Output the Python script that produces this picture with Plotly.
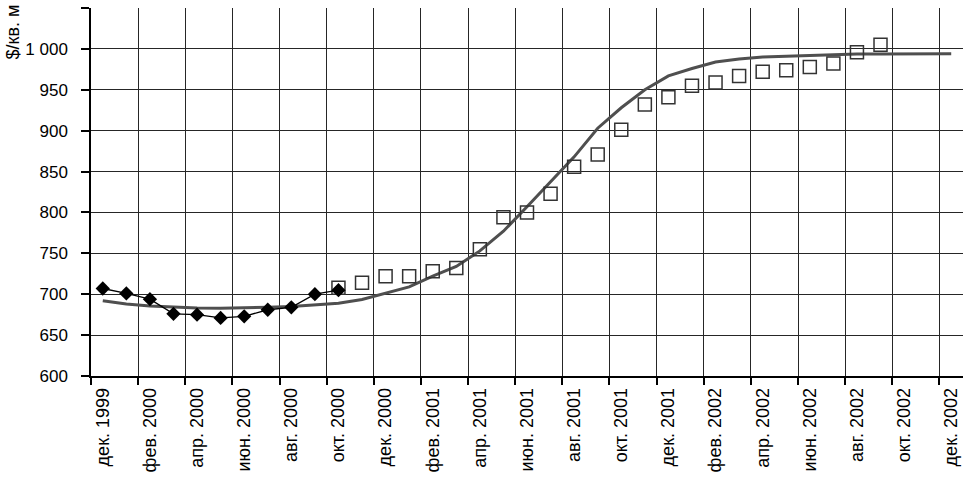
import plotly.graph_objects as go

# Monthly categories Dec 1999 .. Dec 2002
months = ["дек. 1999",
          "янв. 2000", "фев. 2000", "мар. 2000", "апр. 2000", "май 2000", "июн. 2000",
          "июл. 2000", "авг. 2000", "сен. 2000", "окт. 2000", "ноя. 2000", "дек. 2000",
          "янв. 2001", "фев. 2001", "мар. 2001", "апр. 2001", "май 2001", "июн. 2001",
          "июл. 2001", "авг. 2001", "сен. 2001", "окт. 2001", "ноя. 2001", "дек. 2001",
          "янв. 2002", "фев. 2002", "мар. 2002", "апр. 2002", "май 2002", "июн. 2002",
          "июл. 2002", "авг. 2002", "сен. 2002", "окт. 2002", "ноя. 2002", "дек. 2002"]

# Actual prices (diamonds), Dec 1999 .. Oct 2000
actual_vals = [707, 701, 694, 676, 675, 671, 673, 681, 684, 700, 705]

# Later observations (open squares), Oct 2000 .. Sep 2002
square_vals = [708, 714, 722, 722, 728, 732, 755, 794, 800, 823, 856, 871,
               901, 932, 941, 955, 959, 967, 972, 974, 978, 982, 996, 1005]

# Smoothed trend (solid grey curve), Dec 1999 .. Dec 2002
trend_vals = [692, 688, 685.5, 684, 683, 682.7, 683, 684, 685, 687, 689, 693.5,
              701, 709, 722, 734, 753, 777, 807, 837, 868, 903, 928, 950,
              967, 976, 984, 987.5, 990, 991, 992, 992.8, 993.6, 993.8, 994, 994, 994]

y_ticks = [600, 650, 700, 750, 800, 850, 900, 950, 1000, 1050]

idx_all = list(range(len(months)))
idx_actual = idx_all[:len(actual_vals)]
idx_square = idx_all[10:10 + len(square_vals)]

fig = go.Figure()

fig.add_trace(go.Scatter(
    x=idx_all, y=trend_vals, mode="lines",
    line=dict(color="#4f4f4f", width=3),
    showlegend=False, hoverinfo="skip"))

fig.add_trace(go.Scatter(
    x=idx_square, y=square_vals, mode="markers",
    marker=dict(symbol="square-open", size=13, color="#333333",
                line=dict(color="#333333", width=1.5)),
    showlegend=False))

fig.add_trace(go.Scatter(
    x=idx_actual, y=actual_vals, mode="lines+markers",
    line=dict(color="#000000", width=1.3),
    marker=dict(symbol="diamond", size=11, color="#000000"),
    showlegend=False))

label_idx = idx_all[::2]
boundaries = [i - 0.5 for i in label_idx]

fig.update_layout(
    width=963, height=478,
    margin=dict(l=91, r=0, t=8, b=102),
    paper_bgcolor="white", plot_bgcolor="white",
    separators=", ",
    font=dict(family="Liberation Sans, Arial, sans-serif", size=17, color="black"),
    xaxis=dict(
        range=[-0.5, len(months) - 0.5], automargin=False,
        tickmode="array", tickvals=label_idx,
        ticktext=[months[i] for i in label_idx],
        tickangle=-90, ticks="", showgrid=False, zeroline=False,
        showline=True, linecolor="black", linewidth=1.5,
        tickfont=dict(size=18), ticklabelstandoff=3,
        minor=dict(tickmode="array", tickvals=boundaries, showgrid=True,
                   gridcolor="#262626", gridwidth=1, ticks="outside",
                   ticklen=7, tickcolor="black", tickwidth=1.5),
    ),
    yaxis=dict(
        range=[600, 1050], tickmode="array", tickvals=y_ticks, automargin=False,
        tickformat=",d", ticks="outside", ticklen=8, tickcolor="black", tickwidth=1.5,
        showgrid=True, gridcolor="#262626", gridwidth=1, zeroline=False,
        showline=True, linecolor="black", linewidth=1.5,
        tickfont=dict(size=17), ticklabelstandoff=10,
    ),
    annotations=[dict(
        text="$/кв. м", textangle=-90, xref="paper", yref="paper",
        x=-91 / 872, y=1.0, xanchor="left", yanchor="top",
        xshift=0, yshift=5,
        showarrow=False, font=dict(size=18, color="black"))],
)

fig.write_html(
    "out.html",
    config={"displayModeBar": False},
    post_script="document.body.style.margin='0';document.body.style.overflow='hidden';",
)
